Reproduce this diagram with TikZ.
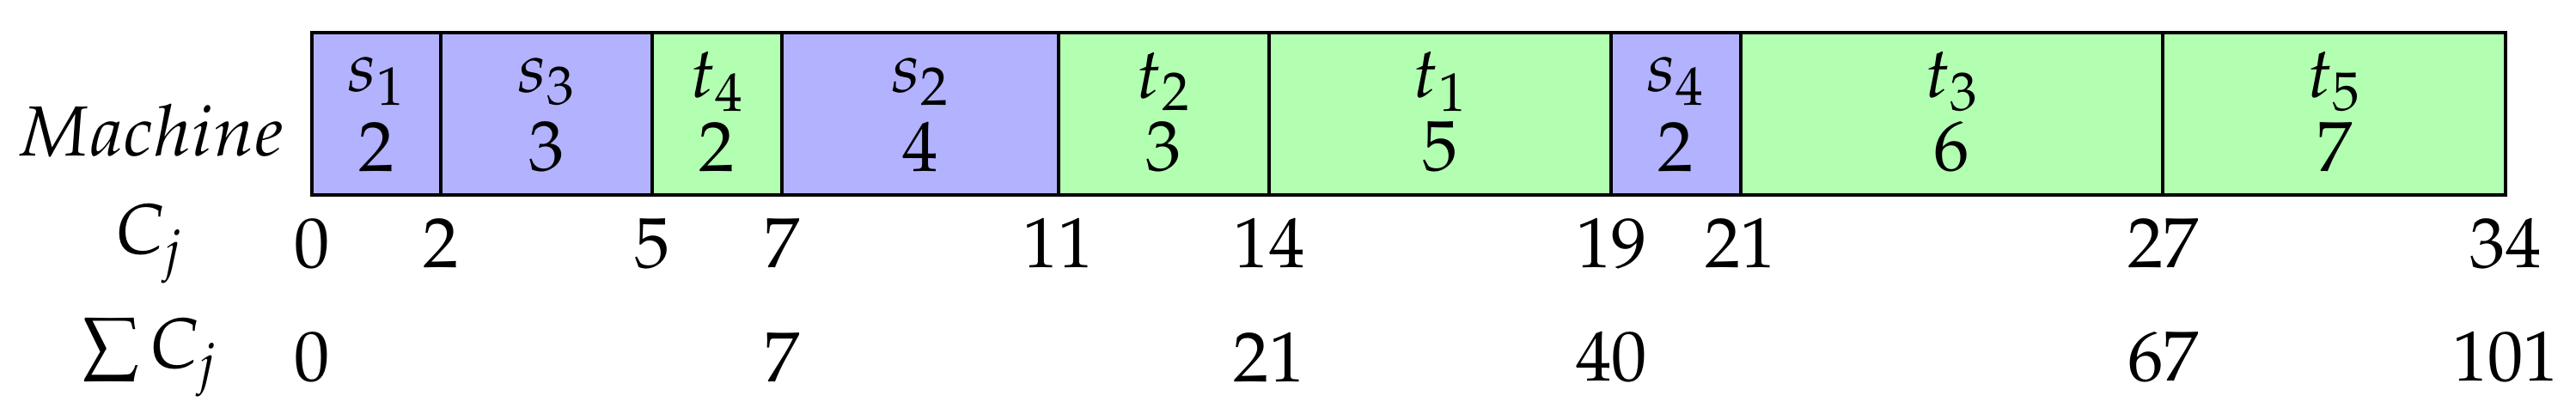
\documentclass[tikz,border=0pt]{standalone}
\usepackage[T1]{fontenc}
\usepackage{mathpazo}
\DeclareMathSizes{23.5}{23.5}{18}{13}
\begin{document}
\begin{tikzpicture}[font=\fontsize{23.5}{28}\selectfont, line width=1.2pt,
	sjob/.style={fill=blue!30},
	tjob/.style={fill=green!30}]
	\useasboundingbox (0,0) rectangle (29.98,4.89);
	\filldraw[sjob] (3.63,2.623) rectangle (5.127,4.513);
	\filldraw[sjob] (5.127,2.623) rectangle (7.59,4.513);
	\filldraw[tjob] (7.59,2.623) rectangle (9.10,4.513);
	\filldraw[sjob] (9.10,2.623) rectangle (12.317,4.513);
	\filldraw[tjob] (12.317,2.623) rectangle (14.77,4.513);
	\filldraw[tjob] (14.77,2.623) rectangle (18.753,4.513);
	\filldraw[sjob] (18.753,2.623) rectangle (20.257,4.513);
	\filldraw[tjob] (20.257,2.623) rectangle (25.173,4.513);
	\filldraw[tjob] (25.173,2.623) rectangle (29.16,4.513);
	\draw (3.63,2.623) rectangle (29.16,4.513);
	\node (ls1) at (4.378,3.94) {$s_1$};
	\node (ps1) at (4.378,3.18) {2};
	\node (ls3) at (6.358,3.94) {$s_3$};
	\node (ps3) at (6.358,3.18) {3};
	\node (lt4) at (8.345,3.94) {$t_4$};
	\node (pt4) at (8.345,3.18) {2};
	\node (ls2) at (10.709,3.94) {$s_2$};
	\node (ps2) at (10.709,3.18) {4};
	\node (lt2) at (13.543,3.94) {$t_2$};
	\node (pt2) at (13.543,3.18) {3};
	\node (lt1) at (16.762,3.94) {$t_1$};
	\node (pt1) at (16.762,3.18) {5};
	\node (ls4) at (19.505,3.94) {$s_4$};
	\node (ps4) at (19.505,3.18) {2};
	\node (lt3) at (22.715,3.94) {$t_3$};
	\node (pt3) at (22.715,3.18) {6};
	\node (lt5) at (27.167,3.94) {$t_5$};
	\node (pt5) at (27.167,3.18) {7};
	\node (machine) at (1.75,3.37) {$Machine$};
	\node (cj) at (1.74,2.055) {$C_j$};
	\node (sumcj) at (1.74,0.73) {$\sum C_j$};
	\node (c0) at (3.63,2.055) {0};
	\node (c2) at (5.127,2.055) {2};
	\node (c5) at (7.59,2.055) {5};
	\node (c7) at (9.10,2.055) {7};
	\node (c11) at (12.317,2.055) {11};
	\node (c14) at (14.77,2.055) {14};
	\node (c19) at (18.753,2.055) {19};
	\node (c21) at (20.257,2.055) {21};
	\node (c27) at (25.173,2.055) {27};
	\node (c34) at (29.16,2.055) {34};
	\node (sc0) at (3.63,0.73) {0};
	\node (sc7) at (9.10,0.73) {7};
	\node (sc21) at (14.77,0.73) {21};
	\node (sc40) at (18.753,0.73) {40};
	\node (sc67) at (25.173,0.73) {67};
	\node (sc101) at (29.16,0.73) {101};
\end{tikzpicture}
\end{document}
